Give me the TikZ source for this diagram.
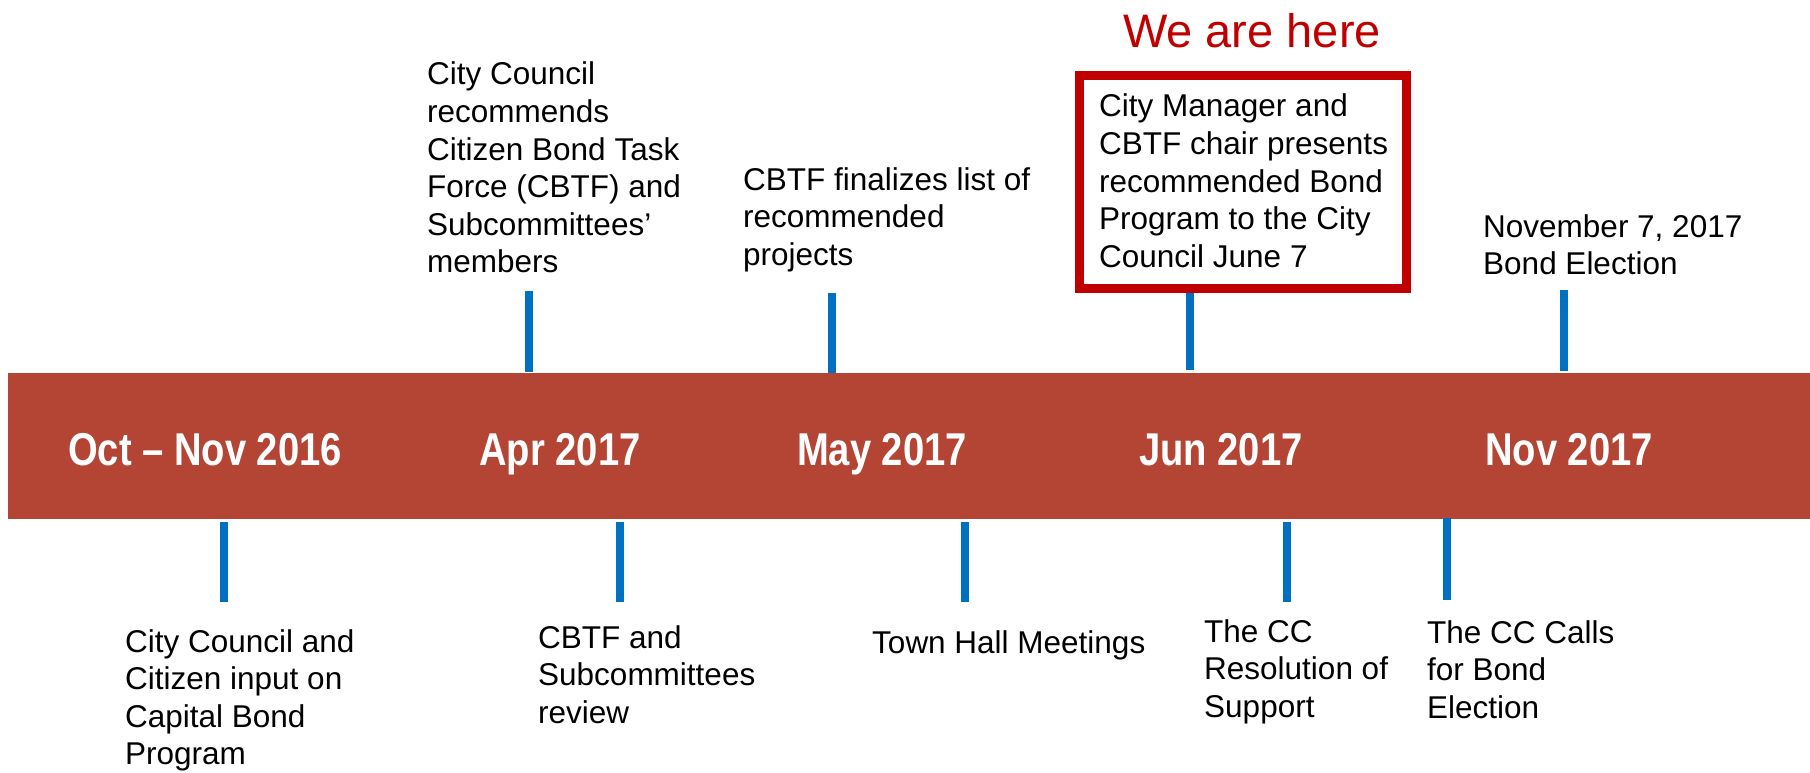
\documentclass[tikz,border=0pt]{standalone}
\usepackage{fontspec}
\setmainfont{Liberation Sans}
\newfontfamily\datefont{Liberation Sans}[FakeStretch=0.83]

\definecolor{barRed}{RGB}{180,69,52}
\definecolor{stemBlue}{RGB}{0,112,192}
\definecolor{hereRed}{RGB}{192,0,0}

\newcommand\notelines[1]{\begin{tabular}[t]{@{}l@{}}#1\end{tabular}}

\begin{document}
\begin{tikzpicture}[x=1pt,y=-1pt,
    note/.style={anchor=base west, inner sep=0pt, font=\fontsize{31.5}{37.6}\selectfont},
    month/.style={anchor=base, inner sep=0pt, text=white, font=\datefont\bfseries\fontsize{46}{50}\selectfont},
    stem/.style={draw=stemBlue, line width=8pt}]
    \useasboundingbox (0,0) rectangle (1810,773);

    % the bar
    \node (bar) [fill=barRed, inner sep=0pt, anchor=north west,
                 minimum width=1802pt, minimum height=146pt] at (8,373) {};

    \node[month] (octnov) at (205,465) {Oct – Nov 2016};
    \node[month] (apr)    at (560,465) {Apr 2017};
    \node[month] (may)    at (882,465) {May 2017};
    \node[month] (jun)    at (1221,465) {Jun 2017};
    \node[month] (nov)    at (1569,465) {Nov 2017};

    % stems above and below
    \foreach \x/\a/\b in {529/291/372, 832/293/373, 1190/293/370, 1564/290/371,
                          224/522/602, 620/522/602, 965/522/602, 1287/522/602, 1447/518/600}
      \draw[stem] (\x,\a) -- (\x,\b);

    % upper notes
    \node[note] (council) at (427,85)
      {\notelines{City Council\\recommends\\Citizen Bond Task\\Force (CBTF) and\\Subcommittees’\\members}};
    \node[note] (finalize) at (743,190)
      {\notelines{CBTF finalizes list of\\recommended\\projects}};
    \node[anchor=base, inner sep=0pt, text=hereRed, font=\fontsize{47}{56}\selectfont]
      (here) at (1252,48) {We are here};
    \draw[hereRed, line width=9pt] (1079.5,75.5) rectangle (1406.5,288.5);
    \node[note] (plan) at (1099,117)
      {\notelines{City Manager and\\CBTF chair presents\\recommended Bond\\Program to the City\\Council June 7}};
    \node[note] (election) at (1483,237)
      {\notelines{November 7, 2017\\Bond Election}};

    % lower notes
    \node[note] (input) at (125,652)
      {\notelines{City Council and\\Citizen input on\\Capital Bond\\Program}};
    \node[note] (review) at (538,648)
      {\notelines{CBTF and\\Subcommittees\\review}};
    \node[note] (townhall) at (872,653) {Town Hall Meetings};
    \node[note] (resolution) at (1204,642)
      {\notelines{The CC\\Resolution of\\Support}};
    \node[note] (calls) at (1427,643)
      {\notelines{The CC Calls\\for Bond\\Election}};

  \end{tikzpicture}
\end{document}
